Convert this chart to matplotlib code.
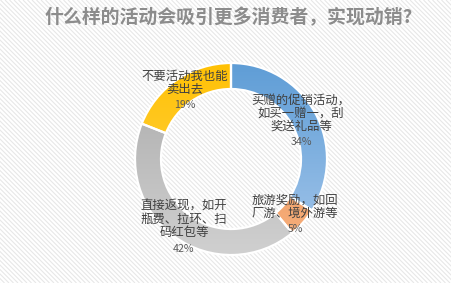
import numpy as np
import matplotlib
matplotlib.use("Agg")
import matplotlib.pyplot as plt
from matplotlib.colors import LinearSegmentedColormap
from matplotlib.collections import LineCollection

plt.rcParams['font.family'] = ['Noto Sans CJK SC', 'DejaVu Sans']

# ---- data ----
title = "什么样的活动会吸引更多消费者，实现动销?"
categories = ["买赠的促销活动，\n如买一赠一，刮\n奖送礼品等",
              "旅游奖励，如回\n厂游、境外游等",
              "直接返现，如开\n瓶费、拉环、扫\n码红包等",
              "不要活动我也能\n卖出去"]
values = [34, 5, 42, 19]
pct_labels = ["34%", "5%", "42%", "19%"]

# ---- styles ----
grad_colors = [("#5b9bd5", "#a9c9ec"),
               ("#ee8a45", "#f6b383"),
               ("#a8a8a8", "#d2d2d2"),
               ("#ffc000", "#ffd75e")]
explode = [0, 0.06, 0, 0]

W, H = 452, 283
fig = plt.figure(figsize=(W / 100, H / 100), dpi=100)
ax = fig.add_axes([0, 0, 1, 1])
fig.patch.set_facecolor('white')

# background diagonal stripes
segs = []
step = 4.5
for x0 in np.arange(-H, W + H, step):
    segs.append([(x0, H), (x0 + H, 0)])
ax.add_collection(LineCollection(segs, colors="#e8e8e8", linewidths=0.8, zorder=0))

cx, cy, R = 231, 124, 96
wedges, _ = ax.pie(values, startangle=90, counterclock=False, radius=R,
                   center=(cx, cy), explode=explode,
                   wedgeprops=dict(width=26, edgecolor='white', linewidth=1.6),
                   frame=False)
ax.set_xlim(0, W)
ax.set_ylim(0, H)
ax.set_aspect('equal')
ax.axis('off')

grad = np.linspace(0, 1, 256).reshape(-1, 1)
for w, (c1, c2) in zip(wedges, grad_colors):
    cmap = LinearSegmentedColormap.from_list("g", [c1, c2])
    im = ax.imshow(grad, cmap=cmap, extent=[cx - R - 10, cx + R + 10, cy - R - 10, cy + R + 10],
                   origin='upper', aspect='auto', zorder=1)
    im.set_clip_path(w)
    w.set_facecolor('none')
    w.set_zorder(2)

# labels (positions in pixel space, y from top)
label_pos = [(301, 113), (295, 207), (184, 219), (185, 83)]
pct_pos = [(301, 142), (295, 229), (184, 249), (185, 105)]
for cat, pct, (lx, ly), (px, py) in zip(categories, pct_labels, label_pos, pct_pos):
    ax.text(lx, H - ly, cat, ha='center', va='center', fontsize=8.9,
            color='#404040', linespacing=1.0, zorder=5)
    ax.text(px, H - py, pct, ha='center', va='center', fontsize=7.6,
            color='#595959', zorder=5)

ax.text(W / 2 + 3, H - 18, title, ha='center', va='center', fontsize=13.6,
        color='#8c8c8c', fontweight='bold', zorder=5)

fig.savefig("out.png", dpi=100)
